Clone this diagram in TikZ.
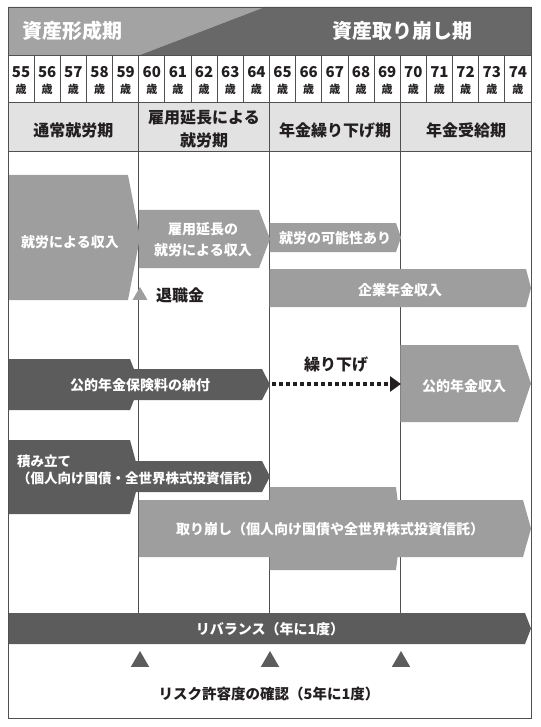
\documentclass[tikz,border=0pt]{standalone}
\usepackage{fontspec}
\setmainfont{Noto Sans CJK JP}
\usetikzlibrary{arrows.meta,positioning,shapes.geometric}
\definecolor{hdrlight}{RGB}{163,163,163}
\definecolor{hdrdark}{RGB}{104,104,104}
\definecolor{darkband}{RGB}{92,92,92}
\definecolor{midband}{RGB}{158,158,158}
\definecolor{phasegray}{RGB}{226,226,226}
\definecolor{linegray}{RGB}{80,80,80}
\definecolor{inkblack}{RGB}{35,31,32}

% band with a chevron tip: x1, y1, x2, y2, tip depth, colour
\newcommand{\arrowband}[6]{%
  \fill[#6] (#1,#2) -- ({#3-#5},#2) -- (#3,{(#2+#4)/2}) -- ({#3-#5},#4) -- (#1,#4) -- cycle;}

\begin{document}
\begin{tikzpicture}[x=1pt,y=-1pt,
    gridline/.style={draw=linegray, line width=0.9pt},
    hdr/.style={text=white, font=\bfseries\fontsize{20}{22}\selectfont, inner sep=0pt},
    phase/.style={font=\bfseries\fontsize{16}{23}\selectfont, inner sep=0pt, align=center, text=inkblack},
    lbl/.style={text=white, font=\bfseries\fontsize{14}{21}\selectfont, inner sep=0pt, align=center},
    blk/.style={text=inkblack, font=\bfseries\fontsize{16}{18}\selectfont, inner sep=0pt},
    tri/.style={regular polygon, regular polygon sides=3, fill=#1, inner sep=0pt, minimum size=21pt},
    dotarrow/.style={draw=inkblack, line width=3.5pt, dash pattern=on 4pt off 3pt, -{Triangle[length=11pt,width=15pt]}}
]
\useasboundingbox (0,0) rectangle (540,727);

% header
\fill[hdrlight] (8,7) -- (265,7) -- (140,55) -- (8,55) -- cycle;
\fill[hdrdark] (265,7) -- (531,7) -- (531,55) -- (140,55) -- cycle;
\node[hdr, anchor=west] (form) at (22,31) {資産形成期};
\node[hdr] (withdraw) at (402,31) {資産取り崩し期};

% ages
\foreach \a [count=\i from 0] in {55,...,74} {
  \node[inner sep=0pt, font=\bfseries\fontsize{15}{15}\selectfont, text=inkblack] (age\a) at ({8+26.15*\i+13.07},72) {\a};
  \node[inner sep=0pt, font=\bfseries\fontsize{11}{11}\selectfont, text=inkblack] (sai\a) at ({8+26.15*\i+13.07},89) {歳};
}
\foreach \i in {1,...,19}
  \draw[gridline] ({8+26.15*\i},55) -- ({8+26.15*\i},102);

% phases
\fill[phasegray] (8,102) rectangle (531,151);
\draw[gridline] (8,55) -- (531,55);
\draw[gridline] (8,102) -- (531,102);
\draw[gridline] (8,151) -- (531,151);
\foreach \x in {138.75,269.5,400.25}
  \draw[gridline] (\x,102) -- (\x,613);
\node[phase] (ph1) at (73.4,130) {通常就労期};
\node[phase] (ph2) at (204,128.5) {雇用延長による\\就労期};
\node[phase] (ph3) at (335,130) {年金繰り下げ期};
\node[phase] (ph4) at (466,130) {年金受給期};

% income bands
\arrowband{8}{175}{140}{300}{12}{midband}
\arrowband{138.75}{210}{270}{268}{11}{midband}
\arrowband{269.5}{223}{401}{252}{5}{midband}
\arrowband{269.5}{269}{531}{307}{5}{midband}
\node[lbl] (work) at (70,242) {就労による収入};
\node[lbl] (extwork) at (203,240) {雇用延長の\\就労による収入};
\node[lbl] (maywork) at (335,238) {就労の可能性あり};
\node[lbl] (corp) at (400,290) {企業年金収入};
\node[tri=midband, minimum size=17pt] (lump) at (140,295.5) {};
\node[blk, anchor=west] (lumplbl) at (156,295) {退職金};

% public pension
\arrowband{8}{359}{140}{410}{10}{darkband}
\arrowband{120}{369}{270}{400}{8}{darkband}
\arrowband{400.25}{345}{531}{422}{13}{midband}
\node[lbl] (pay) at (140,385) {公的年金保険料の納付};
\node[lbl] (pension) at (464,386) {公的年金収入};
\coordinate (delaystart) at (272,384);
\coordinate (delayend) at (401,384);
\draw[dotarrow] (delaystart) -- (delayend);
\node[blk] (delay) at (336,365) {繰り下げ};

% saving and withdrawal
\arrowband{8}{440}{140}{514}{10}{darkband}
\arrowband{120}{461}{270}{492}{8}{darkband}
\node[lbl, anchor=west, align=left, font=\bfseries\fontsize{13.5}{17}\selectfont] (save) at (17,470) {積み立て\\（個人向け国債・全世界株式投資信託）};
\arrowband{138.75}{500}{531}{557}{8}{midband}
\arrowband{269.5}{487}{401}{570}{5}{midband}
\node[lbl] (takeout) at (330,529) {取り崩し（個人向け国債や全世界株式投資信託）};

% rebalance
\arrowband{8}{613}{531}{644}{6}{darkband}
\node[lbl] (rebal) at (270,629) {リバランス（年に1度）};
\foreach \x/\n in {140/a,270/b,401/c}
  \node[tri=darkband] (check\n) at (\x,661.5) {};
\node[blk, font=\bfseries\fontsize{14.5}{17}\selectfont] (risk) at (269,694) {リスク許容度の確認（5年に1度）};

% frame
\draw[gridline] (8,7) rectangle (531,718);
\end{tikzpicture}
\end{document}
